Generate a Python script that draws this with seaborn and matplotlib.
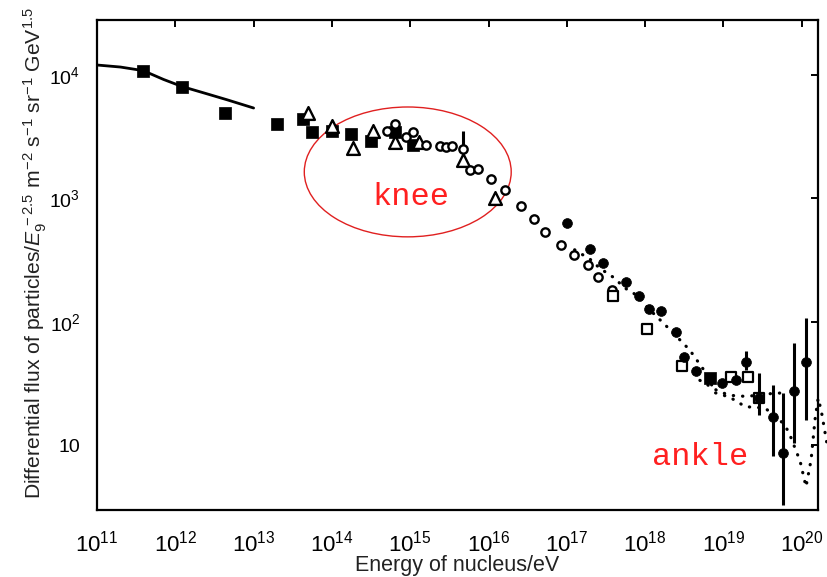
import numpy as np
import matplotlib
matplotlib.use("Agg")
import matplotlib.pyplot as plt
import seaborn as sns
from matplotlib.patches import Ellipse
from matplotlib.ticker import NullLocator, FixedLocator, FixedFormatter

# ---- data: log10(E / eV) and differential flux (scaled by E^2.5) ----
fit_logE = [11.0, 11.3, 11.59, 11.85, 12.09, 12.4, 12.66, 13.0]
fit_flux = [12050, 11600, 10850, 9200, 8050, 7050, 6300, 5400]

sq_filled_logE = [11.59, 12.08, 12.64, 13.30, 13.635, 13.74, 14.005, 14.25,
                  14.50, 14.80, 15.04, 18.83]
sq_filled_flux = [10800, 7950, 4950, 4040, 4410, 3470, 3520, 3310,
                  2920, 3480, 2710, 35]

tri_logE = [13.69, 14.005, 14.265, 14.53, 14.81, 15.11, 15.67, 16.08]
tri_flux = [4900, 3860, 2580, 3520, 2880, 2850, 2060, 1000]

circ_open_logE = [14.71, 14.81, 14.95, 15.03, 15.20, 15.38, 15.46, 15.53,
                  15.67, 15.77, 15.86, 16.03, 16.21, 16.41, 16.58, 16.72,
                  16.93, 17.09, 17.27, 17.40, 17.58]
circ_open_flux = [3540, 4010, 3160, 3480, 2710, 2660, 2620, 2640,
                  2500, 1700, 1720, 1430, 1170, 860, 677, 538,
                  420, 349, 290, 229, 182]

circ_filled_logE = [17.0, 17.29, 17.46, 17.76, 17.92, 18.05, 18.20, 18.40,
                    18.50, 18.65, 18.98, 19.16, 19.29, 19.46, 19.63, 19.76,
                    19.906, 20.05]
circ_filled_flux = [631, 390, 299, 210, 163, 126, 123, 82,
                    52, 40, 31.6, 33.9, 47.6, 24, 16.9, 8.65,
                    27.6, 47.6]

sq_open_logE = [17.59, 18.03, 18.47, 19.10, 19.31, 19.46]
sq_open_flux = [163, 88, 44, 35.5, 35.5, 24]

# error bars: (log10 E, central value, lower, upper)
err_logE = [15.67, 19.29, 19.46, 19.63, 19.76, 19.906, 20.05]
err_flux = [2500, 47.6, 24, 16.9, 8.65, 27.6, 47.6]
err_low = [2500, 40.8, 17.7, 8.1, 3.3, 10.5, 16.1]
err_high = [3520, 58, 38.6, 30.9, 26.6, 67.6, 107]

# dotted model curves
model_a_logE = [17.10, 17.30, 17.42, 17.60, 17.74, 17.90, 18.06, 18.32,
                18.57, 18.77, 18.90, 19.08, 19.28, 19.53, 19.72, 19.83,
                19.90, 19.98, 20.055, 20.12, 20.17, 20.21, 20.25, 20.32]
model_a_flux = [383, 320, 272, 228, 188, 163, 125, 86,
                59, 39, 26.5, 24.5, 20.5, 20.0, 16.1, 13.0,
                10.0, 7.4, 4.6, 7.6, 16.1, 24.0, 19.0, 10.5]
model_b_logE = [18.70, 18.95, 19.10, 19.30, 19.55, 19.75]
model_b_flux = [33.5, 27.0, 25.3, 24.8, 26.0, 26.5]

x_ticks = [1e11, 1e12, 1e13, 1e14, 1e15, 1e16, 1e17, 1e18, 1e19, 1e20]
x_labels = [r"$10^{11}$", r"$10^{12}$", r"$10^{13}$", r"$10^{14}$", r"$10^{15}$",
            r"$10^{16}$", r"$10^{17}$", r"$10^{18}$", r"$10^{19}$", r"$10^{20}$"]
y_ticks = [10, 100, 1000, 10000]
y_labels = ["10", r"$10^2$", r"$10^3$", r"$10^4$"]


def ev(logs):
    return 10 ** np.asarray(logs, dtype=float)


sns.set_theme(style="white")
plt.rcParams["font.family"] = ["Liberation Sans", "DejaVu Sans"]
plt.rcParams["mathtext.fontset"] = "custom"
plt.rcParams["mathtext.rm"] = "Liberation Sans"
plt.rcParams["mathtext.it"] = "Liberation Sans:italic"
plt.rcParams["mathtext.default"] = "regular"

fig = plt.figure(figsize=(8.27, 5.77), dpi=100)
ax = fig.add_axes([0.1173, 0.1161, 0.8718, 0.8492])
ax.set_xscale("log")
ax.set_yscale("log")

# low-energy fit
sns.lineplot(x=ev(fit_logE), y=fit_flux, ax=ax, color="black", lw=2.0,
             sort=False, estimator=None, zorder=2)

# dotted model curves
for lx, fy in ((model_a_logE, model_a_flux), (model_b_logE, model_b_flux)):
    sns.lineplot(x=ev(lx), y=fy, ax=ax, color="black", lw=2.3,
                 linestyle=(0, (0.1, 2.8)), dash_capstyle="round",
                 sort=False, estimator=None, zorder=2, clip_on=False)

# error bars
ef = np.asarray(err_flux)
ax.errorbar(ev(err_logE), ef,
            yerr=[ef - np.asarray(err_low), np.asarray(err_high) - ef],
            fmt="none", ecolor="black", elinewidth=2.2, capsize=0, zorder=3)

# measurements
sns.scatterplot(x=ev(sq_filled_logE), y=sq_filled_flux, ax=ax, marker="s",
                s=68, color="black", edgecolor="black", linewidth=0.5, zorder=4)
sns.scatterplot(x=ev(tri_logE), y=tri_flux, ax=ax, marker="^",
                s=85, color="black", facecolor="white", edgecolor="black",
                linewidth=1.7, zorder=5)
sns.scatterplot(x=ev(circ_open_logE), y=circ_open_flux, ax=ax, marker="o",
                s=36, color="black", facecolor="white", edgecolor="black",
                linewidth=1.7, zorder=5)
sns.scatterplot(x=ev(sq_open_logE), y=sq_open_flux, ax=ax, marker="s",
                s=62, color="black", facecolor="white", edgecolor="black",
                linewidth=1.6, zorder=5)
sns.scatterplot(x=ev(circ_filled_logE), y=circ_filled_flux, ax=ax, marker="o",
                s=50, color="black", edgecolor="black", linewidth=0.5, zorder=6)

ax.set_xlim(1e11, 10 ** 20.208)
ax.set_ylim(2.98, 27900)

ax.xaxis.set_major_locator(FixedLocator(x_ticks))
ax.xaxis.set_major_formatter(FixedFormatter(x_labels))
ax.yaxis.set_major_locator(FixedLocator(y_ticks))
ax.yaxis.set_major_formatter(FixedFormatter(y_labels))
ax.xaxis.set_minor_locator(NullLocator())
ax.yaxis.set_minor_locator(NullLocator())
ax.tick_params(which="major", direction="in", length=5, width=1.4,
               top=True, right=True, colors="black")
ax.tick_params(axis="x", labelsize=16, pad=15)
ax.tick_params(axis="y", labelsize=14, pad=12)

for sp in ax.spines.values():
    sp.set_color("black")
    sp.set_linewidth(1.6)

ax.set_xlabel("Energy of nucleus/eV", fontsize=15.5, color="#222222")
ax.xaxis.set_label_coords(0.5, -0.092)
ax.set_ylabel(r"Differential flux of particles/$\mathit{E}_9^{\,-2.5}$ m$^{-2}$ s$^{-1}$ sr$^{-1}$ GeV$^{1.5}$",
              fontsize=15.2, color="#222222")
ax.yaxis.set_label_coords(-0.066, 0.525)

# knee / ankle annotations
ax.add_patch(Ellipse((0.431, 0.690), 0.287, 0.265, transform=ax.transAxes,
                     fill=False, edgecolor="#e02020", lw=1.0, zorder=1))
ax.text(10 ** 15.01, 10 ** 3.012, "knee", color="#ff2020", fontsize=23,
        family="Liberation Mono", ha="center", va="center")
ax.text(10 ** 18.70, 10 ** 0.907, "ankle", color="#ff2020", fontsize=23,
        family="Liberation Mono", ha="center", va="center")

fig.savefig("out.png", dpi=100, facecolor="white")
